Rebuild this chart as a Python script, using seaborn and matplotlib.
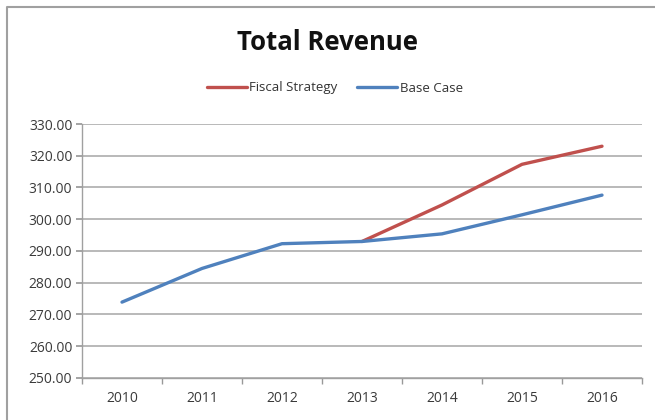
import matplotlib
matplotlib.use("Agg")
import matplotlib.pyplot as plt
import numpy as np
import pandas as pd
import seaborn as sns

years = ["2010", "2011", "2012", "2013", "2014", "2015", "2016"]
fiscal_strategy = [np.nan, np.nan, np.nan, 293.0, 304.5, 317.3, 323.0]
base_case = [273.9, 284.5, 292.3, 293.0, 295.4, 301.4, 307.6]
y_ticks = [250, 260, 270, 280, 290, 300, 310, 320, 330]

df = pd.DataFrame({
    "Year": years * 2,
    "Revenue": fiscal_strategy + base_case,
    "Series": ["Fiscal Strategy"] * len(years) + ["Base Case"] * len(years),
})

sns.set_theme(style="white")
plt.rcParams["font.family"] = ["Open Sans", "DejaVu Sans"]

W, H = 655, 420
fig = plt.figure(figsize=(W / 100, H / 100), dpi=100)
ax = fig.add_axes([82 / W, 1 - 378 / H, 560 / W, 254 / H])

palette = {"Fiscal Strategy": "#C0504D", "Base Case": "#4F81BD"}
sns.lineplot(data=df, x="Year", y="Revenue", hue="Series", palette=palette,
             linewidth=2.4, ax=ax, legend=False, sort=False)

ax.set_xlim(-0.5, len(years) - 0.5)
ax.set_ylim(250, 330)
ax.set_yticks(y_ticks)
ax.set_yticklabels([f"{v:.2f}" for v in y_ticks], fontsize=10, color="#3a3a3a")
ax.set_xticks(range(len(years)))
ax.set_xticklabels(years, fontsize=10, color="#3a3a3a")
ax.tick_params(axis="x", length=0, pad=9)
ax.tick_params(axis="y", length=4, color="#999999", left=True, pad=3)
# category separators on the x axis
ax.set_xticks(np.arange(-0.5, len(years)), minor=True)
ax.tick_params(axis="x", which="minor", length=4, color="#999999", bottom=True)
ax.set_xlabel("")
ax.set_ylabel("")
ax.grid(axis="y", color="#a6a6a6", linewidth=1.1)
ax.set_axisbelow(True)
for side in ["top", "right"]:
    ax.spines[side].set_visible(False)
for side in ["left", "bottom"]:
    ax.spines[side].set_color("#a0a0a0")
    ax.spines[side].set_linewidth(1.0)

fig.text(0.5, 1 - 42 / H, "Total Revenue", ha="center", va="center",
         fontsize=18.5, fontweight="bold", color="#111111")

handles = [plt.Line2D([], [], color=palette[s], linewidth=2.4) for s in palette]
fig.legend(handles, list(palette), loc="center", bbox_to_anchor=(335 / W, 1 - 88 / H),
           ncol=2, frameon=False, fontsize=9.5, handlelength=3.0,
           handletextpad=0.2, columnspacing=1.5, labelcolor="#333333")

# outer chart border (left and top edges)
fig.add_artist(plt.Line2D([6.5 / W, 6.5 / W, 1.0], [0.0, 1 - 7 / H, 1 - 7 / H],
                          transform=fig.transFigure, color="#a0a0a0", linewidth=1.5))

fig.savefig("out.png", dpi=100)
